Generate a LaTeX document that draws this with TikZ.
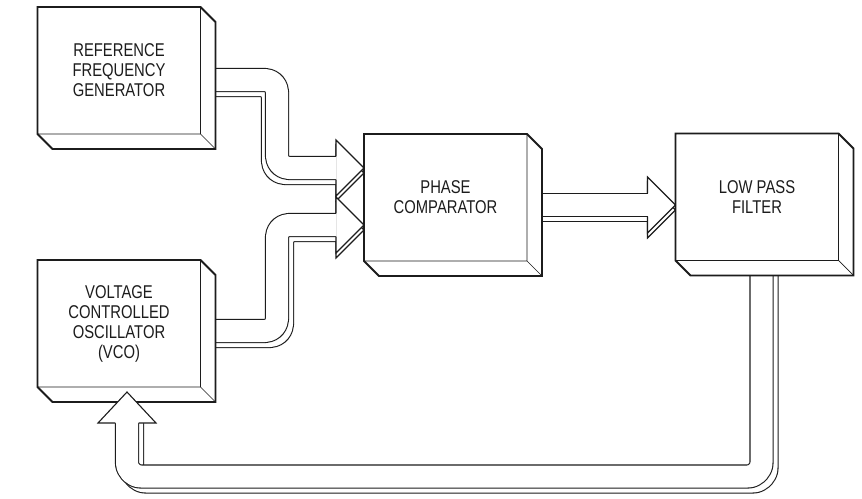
\documentclass[tikz,border=0pt]{standalone}
\usepackage{fontspec}
\newfontfamily\blkfont{Liberation Sans}[FakeStretch=0.8]
\usetikzlibrary{backgrounds, calc}
\definecolor{ink}{HTML}{1C1C1C}
\tikzset{
  blk/.style={draw=ink, line width=0.7pt, fill=white, minimum width=163pt, minimum height=127pt,
    align=center, inner sep=0pt, outer sep=0pt, text=ink,
    font=\blkfont\fontsize{18.5pt}{20pt}\selectfont},
  rim/.style={draw=ink, line width=1.8pt, line join=miter},
  tube/.style={draw=ink, line width=1.1pt, double=white, double distance=22pt,
    rounded corners=12pt, line join=round},
  hd/.style={fill=white, draw=ink, line width=1.1pt, line join=miter},
  fathead/.pic={
    \path[hd, yshift=-5pt] (-28,-11.55) -- (-28,-28) -- (0,0) -- (-28,28) -- (-28,11.55);
    \path[hd] (-28,-11.55) -- (-28,-28) -- (0,0) -- (-28,28) -- (-28,11.55);
  },
}

\begin{document}
\begin{tikzpicture}[x=1pt, y=-1pt]
\useasboundingbox (0,0) rectangle (862,498);

% blocks
\node[blk] (rfg) at (119,70.5) {REFERENCE\\FREQUENCY\\GENERATOR};
\node[blk] (vco) at (119,323.5) {VOLTAGE\\CONTROLLED\\OSCILLATOR\\(VCO)};
\node[blk] (pc) at (445.5,197.5) {PHASE\\COMPARATOR};
\node[blk] (lpf) at (757,197) {LOW PASS\\FILTER};

\foreach \b in {rfg,vco,pc,lpf}{
  \fill[white] (\b.north east) -- ([xshift=15pt,yshift=-15pt]\b.north east)
    -- ([xshift=15pt,yshift=-15pt]\b.south east) -- ([xshift=15pt,yshift=-15pt]\b.south west)
    -- (\b.south west) -- (\b.south east) -- cycle;
  \draw[ink, line width=0.7pt] (\b.north east) -- (\b.south east) -- (\b.south west)
    (\b.south east) -- ([xshift=15pt,yshift=-15pt]\b.south east);
  \draw[rim] (\b.south west) -- (\b.north west) -- (\b.north east)
    -- ([xshift=15pt,yshift=-15pt]\b.north east) -- ([xshift=15pt,yshift=-15pt]\b.south east)
    -- ([xshift=15pt,yshift=-15pt]\b.south west) -- cycle;
}

% arrow tips
\coordinate (t1) at (pc.west |- 0,168);
\coordinate (t2) at (pc.west |- 0,225);
\coordinate (t3) at (lpf.west |- 0,205);
\coordinate (t4) at ($(vco.south -| 127,0)+(0,5)$);

\begin{scope}[on background layer]
  \fill[white] (0,0) rectangle (862,498);
  % shadows
  \draw[tube] (rfg.east |- 0,85) -| (273,124) |- ([xshift=-28pt,yshift=-5pt]t1);
  \draw[tube] (vco.east |- 0,336) -| (282,278) |- ([xshift=-28pt,yshift=-5pt]t2);
  \draw[tube] (pc.east |- 0,210) -- ([xshift=-28pt,yshift=-5pt]t3);
  \draw[tube, rounded corners=14pt] (766.5,0 |- lpf.south) |- (444,481.5) -| ($(t4)+(5,31)$);
  % heads
  \pic at (t1) {fathead};
  \pic at (t2) {fathead};
  \pic at (t3) {fathead};
  % tubes
  \draw[tube] (rfg.east |- 0,80) -| (277,124) |- ([xshift=-28pt]t1);
  \draw[tube] (vco.east |- 0,331) -| (277,278) |- ([xshift=-28pt]t2);
  \draw[tube] (pc.east |- 0,205) -- ([xshift=-28pt]t3);
  \draw[tube, rounded corners=14pt] (761.5,0 |- lpf.south) |- (444,476.5) -| ($(t4)+(0,31)$);
\end{scope}

% feedback head over the VCO
\path[hd] ($(t4)+(-11.55,31)$) -- ($(t4)+(-29,31)$) -- (t4) -- ($(t4)+(29,31)$) -- ($(t4)+(11.55,31)$);
\end{tikzpicture}
\end{document}
